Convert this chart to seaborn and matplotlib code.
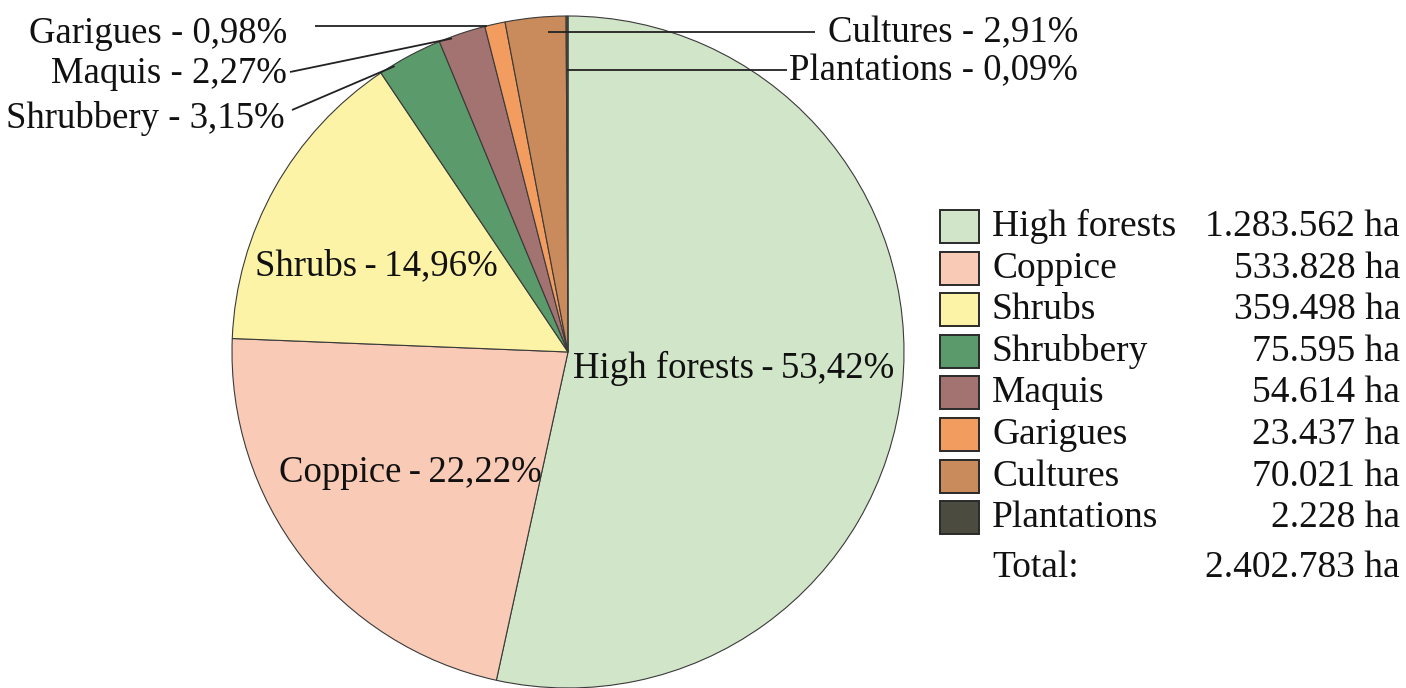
import numpy as np
import matplotlib
matplotlib.use("Agg")
import matplotlib.pyplot as plt
import seaborn as sns
from matplotlib.patches import Rectangle

# ---- data ----
categories = ["High forests", "Coppice", "Shrubs", "Shrubbery", "Maquis",
              "Garigues", "Cultures", "Plantations"]
percents = [53.42, 22.22, 14.96, 3.15, 2.27, 0.98, 2.91, 0.09]
pct_labels = ["53,42%", "22,22%", "14,96%", "3,15%", "2,27%", "0,98%", "2,91%", "0,09%"]
areas = ["1.283.562 ha", "533.828 ha", "359.498 ha", "75.595 ha", "54.614 ha",
         "23.437 ha", "70.021 ha", "2.228 ha"]
total_label = "Total:"
total_value = "2.402.783 ha"
colors = ["#d1e5c9", "#f9cbb6", "#fdf3a6", "#5b9a6a", "#a37371",
          "#f29c5f", "#c98b5c", "#4b4b40"]

sns.set_theme(style="white")
plt.rcParams['font.family'] = ['Liberation Serif', 'DejaVu Serif']

W, H = 1406, 688
fig = plt.figure(figsize=(W / 100, H / 100), dpi=100)
cx, cy, R = 568, 352, 336
ax = fig.add_axes([(cx - R) / W, (H - cy - R) / H, 2 * R / W, 2 * R / H])
wedges, _ = ax.pie(percents, colors=colors, startangle=90, counterclock=False,
                   radius=1, wedgeprops=dict(edgecolor='#3a3a3a', linewidth=0.8))
ax.set_xlim(-1, 1)
ax.set_ylim(-1, 1)
ax.set_aspect('equal')
ax.axis('off')


def px(x, y):
    return (x - cx) / R, (cy - y) / R


def on_wedge(w, frac, r):
    a = np.deg2rad(w.theta1 + frac * (w.theta2 - w.theta1))
    return r * np.cos(a), r * np.sin(a)


fs_in = 26.5
fs_out = 26.5
fs_leg = 27
tc = '#111111'
lc = '#222222'
ts = "\u2009"

# inside labels (center x, baseline y in pixels)
inside = {0: (734, 378), 1: (410, 482), 2: (376, 275)}
for i, (x, y) in inside.items():
    dx, dy = px(x, y)
    ax.text(dx, dy, f"{categories[i]}{ts}-{ts}{pct_labels[i]}", ha='center',
            va='baseline', fontsize=fs_in, color=tc)

# outside labels on the left: text right edge, baseline, line start (x, y), anchor frac, radius
left = {5: (287, 43, (315, None), 0.89, 1.0),
        4: (287, 83, (290, 72), 0.73, 0.995),
        3: (285, 128, (292, 110), 0.77, 0.995)}
for i, (tx, tb, (lx, ly), frac, r) in left.items():
    axx, ayy = on_wedge(wedges[i], frac, r)
    ldx, ldy = px(lx, ly if ly is not None else 0)
    if ly is None:
        ldy = ayy
    ax.plot([ldx, axx], [ldy, ayy], color=lc, lw=1.3, clip_on=False,
            solid_capstyle='butt')
    tdx, tdy = px(tx, tb)
    ax.text(tdx, tdy, f"{categories[i]} - {pct_labels[i]}", ha='right',
            va='baseline', fontsize=fs_out, color=tc, clip_on=False)

# outside labels on the right: text left edge, baseline, line end x, anchor frac, radius
right = {6: (828, 42, 815, 0.31, 0.954), 7: (789, 80, 787, 0.5, 0.839)}
for i, (tx, tb, lx, frac, r) in right.items():
    axx, ayy = on_wedge(wedges[i], frac, r)
    ldx, _ = px(lx, 0)
    ax.plot([axx, ldx], [ayy, ayy], color=lc, lw=1.3, clip_on=False,
            solid_capstyle='butt')
    tdx, tdy = px(tx, tb)
    ax.text(tdx, tdy, f"{categories[i]} - {pct_labels[i]}", ha='left',
            va='baseline', fontsize=fs_out, color=tc, clip_on=False)

# legend table
lax = fig.add_axes([0, 0, 1, 1])
lax.set_xlim(0, W)
lax.set_ylim(H, 0)
lax.axis('off')
sq_top0, base0, step = 210, 236, 41.6
for k, (name, val, col) in enumerate(zip(categories, areas, colors)):
    lax.add_patch(Rectangle((940, sq_top0 + step * k), 39, 33, facecolor=col,
                            edgecolor='#2a2a2a', linewidth=1.4))
    yb = base0 + step * k
    lax.text(992, yb, name, ha='left', va='baseline', fontsize=fs_leg, color=tc)
    lax.text(1400, yb, val, ha='right', va='baseline', fontsize=fs_leg, color=tc)
lax.text(992, 577, total_label, ha='left', va='baseline', fontsize=fs_leg, color=tc)
lax.text(1400, 577, total_value, ha='right', va='baseline', fontsize=fs_leg, color=tc)

fig.savefig("out.png", dpi=100, facecolor='white')
